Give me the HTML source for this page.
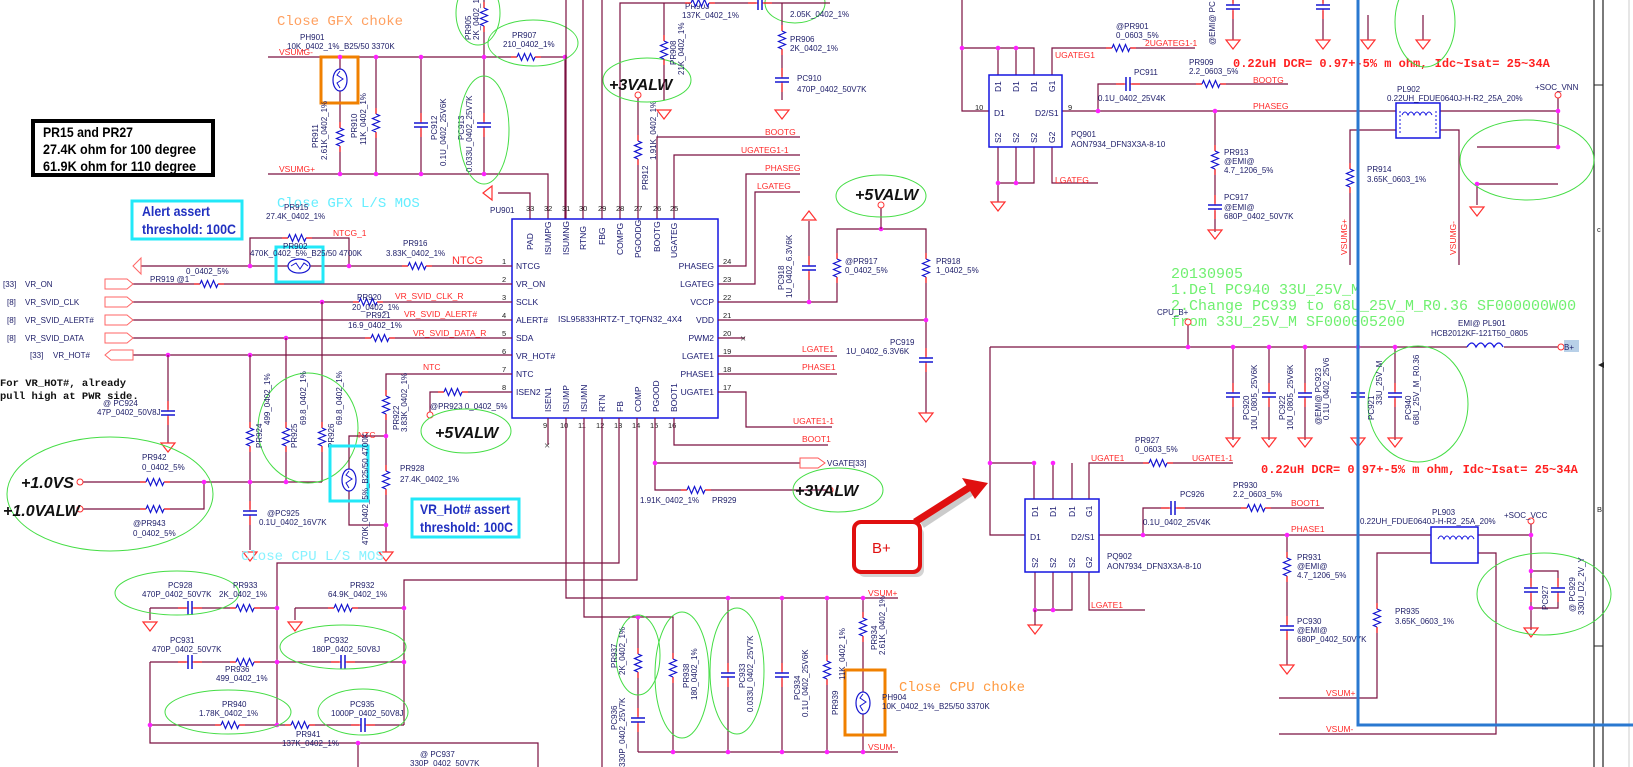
<!DOCTYPE html>
<html><head><meta charset="utf-8"><style>
html,body{margin:0;padding:0;background:#fff;}
svg{display:block}
.l{font:8px "Liberation Sans Narrow","Liberation Sans",sans-serif;fill:#20206a}
.p{font:7.5px "Liberation Sans Narrow","Liberation Sans",sans-serif;fill:#222}
.r{font:8.5px "Liberation Sans Narrow","Liberation Sans",sans-serif;fill:#ff2a2a}
.pl{font:8.5px "Liberation Sans Narrow","Liberation Sans",sans-serif;fill:#1a1a70}
.w{stroke:#7b1040;stroke-width:1.2;fill:none}
.big{font:italic bold 16px "Liberation Sans Narrow","Liberation Sans",sans-serif;fill:#111}
.m{font:14px "Liberation Mono",monospace}
.g{font:15px "Liberation Mono",monospace;fill:#70f070}
.note{font:bold 12px "Liberation Mono",monospace;fill:#ff2020}
.el{fill:none;stroke:#44dd44;stroke-width:1}
.bx{font:bold 14px "Liberation Sans Narrow","Liberation Sans",sans-serif}
</style></head><body>
<svg width="1633" height="767" viewBox="0 0 1633 767" xmlns="http://www.w3.org/2000/svg">
<defs>
<g id="rh"><rect x="-9" y="-1.5" width="18" height="3" fill="#fff"/><line x1="-15" y1="0" x2="-9" y2="0" stroke="#f22" stroke-width="1.2"/><line x1="9" y1="0" x2="15" y2="0" stroke="#f22" stroke-width="1.2"/><path d="M-9,0 l1.5,-3.5 l3,7 l3,-7 l3,7 l3,-7 l3,7 l1.5,-3.5" stroke="#1515d0" stroke-width="1.2" fill="none"/></g>
<g id="rv"><use href="#rh" transform="rotate(90)"/></g>
<g id="ch"><rect x="-4" y="-1.5" width="8" height="3" fill="#fff"/><line x1="-12" y1="0" x2="-2" y2="0" stroke="#f22" stroke-width="1.2"/><line x1="2" y1="0" x2="12" y2="0" stroke="#f22" stroke-width="1.2"/><line x1="-2" y1="-7" x2="-2" y2="7" stroke="#1515d0" stroke-width="1.5"/><line x1="2" y1="-7" x2="2" y2="7" stroke="#1515d0" stroke-width="1.5"/></g>
<g id="cv"><use href="#ch" transform="rotate(90)"/></g>
<g id="gd"><polygon points="-7,0 7,0 0,9" fill="none" stroke="#ff3030" stroke-width="1.2"/></g>
<g id="gu"><polygon points="-7,0 7,0 0,-9" fill="none" stroke="#ff3030" stroke-width="1.2"/></g>
<circle id="d" r="2.3" fill="#ff20ff"/>
<g id="th"><ellipse rx="7" ry="11" fill="#fff" stroke="#1515d0" stroke-width="1.2"/><path d="M0,-9 l-3,4 l6,4 l-6,4 l3,5" stroke="#1515d0" fill="none"/></g>
</defs>

<line x1="1594" y1="0" x2="1594" y2="767" stroke="#222" stroke-width="1.2"/>
<line x1="1603" y1="0" x2="1603" y2="767" stroke="#222" stroke-width="1.2"/>
<line x1="1594" y1="85" x2="1603" y2="85" stroke="#222"/>
<line x1="1594" y1="646" x2="1603" y2="646" stroke="#222"/>
<line x1="1629" y1="0" x2="1629" y2="767" stroke="#ccc" stroke-width="1"/>
<text x="1597" y="232" class="p">c</text><text x="1597" y="512" class="p">B</text>
<polygon points="1598,365 1604,362 1604,368" fill="#222"/>

<text x="277" y="25" class="m" fill="#ffa060">Close GFX choke</text>
<text x="300" y="40" class="l">PH901</text>
<text x="287" y="49" class="l">10K_0402_1%_B25/50 3370K</text>
<text x="279" y="55" class="r">VSUMG-</text>
<path class="w" d="M268,57 H565 V219"/>
<path class="w" d="M340,57 V174 M376,57 V174 M421,57 V174 M484,0 V174"/>
<text x="279" y="172" class="r">VSUMG+</text>
<path class="w" d="M268,174 H548 V219"/>
<use href="#th" x="340" y="80"/>
<rect x="321" y="57" width="37" height="46" fill="none" stroke="#f08000" stroke-width="3"/>
<use href="#rv" x="340" y="137"/><use href="#rv" x="376" y="123"/>
<use href="#cv" x="421" y="125"/><use href="#cv" x="484" y="125"/>
<use href="#rv" x="484" y="17"/><use href="#rh" x="526" y="57"/>
<g class="l"><text transform="translate(318,148) rotate(-90)">PR911</text><text transform="translate(327,160) rotate(-90)">2.61K_0402_1%</text>
<text transform="translate(357,138) rotate(-90)">PR910</text><text transform="translate(366,145) rotate(-90)">11K_0402_1%</text>
<text transform="translate(437,140) rotate(-90)">PC912</text><text transform="translate(446,166) rotate(-90)">0.1U_0402_25V6K</text>
<text transform="translate(464,140) rotate(-90)">PC913</text><text transform="translate(472,172) rotate(-90)">0.033U_0402_25V7K</text>
<text transform="translate(471,40) rotate(-90)">PR905</text><text transform="translate(479,40) rotate(-90)">2K_0402_1%</text>
<text x="512" y="38">PR907</text><text x="503" y="47">210_0402_1%</text></g>
<use href="#d" x="340" y="57"/><use href="#d" x="376" y="57"/><use href="#d" x="421" y="57"/><use href="#d" x="484" y="57"/><use href="#d" x="565" y="57"/>
<use href="#d" x="340" y="174"/><use href="#d" x="376" y="174"/><use href="#d" x="421" y="174"/><use href="#d" x="484" y="174"/>
<ellipse class="el" cx="484" cy="130" rx="25" ry="54"/>
<ellipse class="el" cx="533" cy="43" rx="45" ry="23"/>
<ellipse class="el" cx="478" cy="13" rx="22" ry="32"/>
<ellipse class="el" cx="795" cy="3" rx="30" ry="20"/>

<rect x="33" y="121" width="180" height="54" fill="#fff" stroke="#000" stroke-width="4"/>
<g class="bx" fill="#000"><text x="43" y="137" textLength="90" lengthAdjust="spacingAndGlyphs">PR15 and PR27</text><text x="43" y="154" textLength="153" lengthAdjust="spacingAndGlyphs">27.4K ohm for 100 degree</text><text x="43" y="171" textLength="153" lengthAdjust="spacingAndGlyphs">61.9K ohm for 110 degree</text></g>

<rect x="132" y="201" width="110" height="38" fill="#fff" stroke="#22e8f8" stroke-width="3"/>
<g class="bx" fill="#2030c0"><text x="142" y="216" textLength="68" lengthAdjust="spacingAndGlyphs">Alert  assert</text><text x="142" y="234" textLength="94" lengthAdjust="spacingAndGlyphs">threshold: 100C</text></g>
<text x="277" y="207" class="m" fill="#66eeff">Close GFX L/S MOS</text>

<path class="w" d="M530,219 V193 H498"/>
<use href="#gu" transform="translate(492,193) rotate(-90)"/>
<text x="490" y="213" class="l">PU901</text>
<path class="w" d="M566,219 V0 M583,219 V0 M602,219 V0 M620,219 V3 H830 M638,219 V97"/>
<circle cx="638" cy="95" r="3" fill="#fff" stroke="#f33"/>
<use href="#rv" x="638" y="150"/>
<text class="l" transform="translate(648,190) rotate(-90)">PR912</text><text class="l" transform="translate(656,160) rotate(-90)">1.91K_0402_1%</text>
<ellipse class="el" cx="647" cy="80" rx="44" ry="22"/>
<text x="609" y="90" class="big">+3VALW</text>
<path class="w" d="M664,3 V100 M782,3 V100"/>
<use href="#rv" x="664" y="50"/><use href="#rv" x="782" y="40"/><use href="#cv" x="782" y="80"/>
<use href="#gd" x="664" y="110"/><use href="#gd" x="782" y="110"/>
<g class="l"><text x="685" y="9">PR903</text><text x="682" y="18">137K_0402_1%</text><text x="790" y="17">2.05K_0402_1%</text>
<text x="790" y="42">PR906</text><text x="790" y="51">2K_0402_1%</text><text x="797" y="81">PC910</text><text x="797" y="92">470P_0402_50V7K</text>
<text transform="translate(676,65) rotate(-90)">PR908</text><text transform="translate(684,75) rotate(-90)">21K_0402_1%</text></g>
<use href="#rh" x="700" y="3"/><use href="#ch" x="760" y="3"/>
<path class="w" d="M657,219 V137 H800 M674,219 V155 H800"/>
<text x="765" y="135" class="r">BOOTG</text><text x="741" y="153" class="r">UGATEG1-1</text>
<path class="w" d="M718,266 H746 V174 H800 M718,284 H755 V192 H800"/>
<text x="765" y="171" class="r">PHASEG</text><text x="757" y="189" class="r">LGATEG</text>

<rect x="512" y="219" width="206" height="199" fill="#fff" stroke="#1515e0" stroke-width="1.5"/>
<g class="p"><text x="526" y="211">33</text><text x="544" y="211">32</text><text x="562" y="211">31</text><text x="579" y="211">30</text><text x="598" y="211">29</text><text x="616" y="211">28</text><text x="634" y="211">27</text><text x="653" y="211">26</text><text x="670" y="211">25</text></g>
<g class="pl">
<text transform="translate(533,250) rotate(-90)">PAD</text><text transform="translate(551,255) rotate(-90)">ISUMPG</text><text transform="translate(569,255) rotate(-90)">ISUMNG</text><text transform="translate(586,250) rotate(-90)">RTNG</text><text transform="translate(605,245) rotate(-90)">FBG</text><text transform="translate(623,255) rotate(-90)">COMPG</text><text transform="translate(641,258) rotate(-90)">PGOODG</text><text transform="translate(660,252) rotate(-90)">BOOTG</text><text transform="translate(677,258) rotate(-90)">UGATEG</text>
<text x="516" y="269">NTCG</text><text x="516" y="287">VR_ON</text><text x="516" y="305">SCLK</text><text x="516" y="323">ALERT#</text><text x="516" y="341">SDA</text><text x="516" y="359">VR_HOT#</text><text x="516" y="377">NTC</text><text x="516" y="395">ISEN2</text>
<text x="714" y="269" text-anchor="end">PHASEG</text><text x="714" y="287" text-anchor="end">LGATEG</text><text x="714" y="305" text-anchor="end">VCCP</text><text x="714" y="323" text-anchor="end">VDD</text><text x="714" y="341" text-anchor="end">PWM2</text><text x="714" y="359" text-anchor="end">LGATE1</text><text x="714" y="377" text-anchor="end">PHASE1</text><text x="714" y="395" text-anchor="end">UGATE1</text>
<text transform="translate(551,412) rotate(-90)">ISEN1</text><text transform="translate(569,412) rotate(-90)">ISUMP</text><text transform="translate(587,412) rotate(-90)">ISUMN</text><text transform="translate(605,412) rotate(-90)">RTN</text><text transform="translate(623,412) rotate(-90)">FB</text><text transform="translate(641,412) rotate(-90)">COMP</text><text transform="translate(659,412) rotate(-90)">PGOOD</text><text transform="translate(677,412) rotate(-90)">BOOT1</text>
<text x="558" y="322">ISL95833HRTZ-T_TQFN32_4X4</text></g>
<g class="p"><text x="502" y="264">1</text><text x="502" y="282">2</text><text x="502" y="300">3</text><text x="502" y="318">4</text><text x="502" y="336">5</text><text x="502" y="354">6</text><text x="502" y="372">7</text><text x="502" y="390">8</text>
<text x="723" y="264">24</text><text x="723" y="282">23</text><text x="723" y="300">22</text><text x="723" y="318">21</text><text x="723" y="336">20</text><text x="723" y="354">19</text><text x="723" y="372">18</text><text x="723" y="390">17</text>
<text x="543" y="428">9</text><text x="560" y="428">10</text><text x="578" y="428">11</text><text x="596" y="428">12</text><text x="614" y="428">13</text><text x="632" y="428">14</text><text x="650" y="428">15</text><text x="668" y="428">16</text></g>

<path class="w" d="M718,302 H837 V229 H926 V413 M718,320 H926 M718,338 H745 M718,356 H837 M718,374 H837 M718,392 H746 V427 H832 M674,418 V445 H828"/>
<text x="740" y="342" fill="#333" font-size="11">×</text>
<path class="w" d="M809,302 V221"/><use href="#gu" x="809" y="220"/><use href="#cv" x="809" y="268"/><use href="#d" x="809" y="302"/>
<use href="#rv" x="837" y="268"/><use href="#rv" x="926" y="268"/><use href="#cv" x="926" y="360"/><use href="#gd" x="926" y="413"/>
<use href="#d" x="881" y="229"/><use href="#d" x="926" y="320"/>
<path class="w" d="M881,207 V229"/><circle cx="881" cy="205" r="3" fill="#fff" stroke="#f33"/>
<ellipse class="el" cx="881" cy="196" rx="45" ry="21"/>
<text x="855" y="200" class="big">+5VALW</text>
<g class="l"><text x="845" y="264">@PR917</text><text x="845" y="273">0_0402_5%</text><text x="936" y="264">PR918</text><text x="936" y="273">1_0402_5%</text>
<text x="890" y="345">PC919</text><text x="846" y="354">1U_0402_6.3V6K</text>
<text transform="translate(784,290) rotate(-90)">PC918</text><text transform="translate(792,298) rotate(-90)">1U_0402_6.3V6K</text></g>
<text x="802" y="352" class="r">LGATE1</text><text x="802" y="370" class="r">PHASE1</text><text x="793" y="424" class="r">UGATE1-1</text><text x="802" y="442" class="r">BOOT1</text>

<path class="w" d="M548,418 V445"/><text x="544" y="449" fill="#333" font-size="11">×</text>
<path class="w" d="M566,418 V598 H898 M584,418 V617 H673 V752 M602,418 V767 M619,418 V563 H277 V725 M637,418 V580 H404 V725"/>
<path class="w" d="M655,418 V490 H830 M655,463 H800"/>
<use href="#d" x="655" y="463"/>
<polygon points="800,458 818,458 825,463 818,468 800,468" fill="none" stroke="#f55"/>
<text x="827" y="466" class="l">VGATE</text><text x="853" y="466" class="l">[33]</text>
<use href="#rh" x="696" y="490"/>
<circle cx="830" cy="490" r="3" fill="#fff" stroke="#f33"/>
<ellipse class="el" cx="838" cy="490" rx="45" ry="22"/>
<text x="795" y="496" class="big">+3VALW</text>
<text x="640" y="503" class="l">1.91K_0402_1%</text><text x="712" y="503" class="l">PR929</text>

<path class="w" d="M141,266 H512 M250,266 V238 H349 V266 M131,284 H512 M131,302 H512 M131,320 H512 M131,338 H512 M133,355 H512"/>
<polygon points="133,266 141,258 141,274" fill="#fff" stroke="#f66"/>
<use href="#rh" x="297" y="238"/><use href="#rh" x="417" y="266"/>
<use href="#th" transform="translate(299,266) rotate(90)"/>
<rect x="276" y="247" width="47" height="35" fill="none" stroke="#22e8f8" stroke-width="3"/>
<use href="#d" x="250" y="266"/><use href="#d" x="349" y="266"/>
<g class="l"><text x="284" y="210">PR915</text><text x="266" y="219">27.4K_0402_1%</text><text x="283" y="249">PR902</text><text x="250" y="256">470K_0402_5%_B25/50 4700K</text>
<text x="403" y="246">PR916</text><text x="386" y="256">3.83K_0402_1%</text></g>
<text x="333" y="236" class="r">NTCG_1</text><text x="452" y="264" class="r" style="font-size:11px">NTCG</text>
<g>
<polygon points="105,279 127,279 133,284 127,289 105,289" fill="#fff" stroke="#f66"/>
<polygon points="105,297 127,297 133,302 127,307 105,307" fill="#fff" stroke="#f66"/>
<polygon points="105,315 127,315 133,320 127,325 105,325" fill="#fff" stroke="#f66"/>
<polygon points="105,333 127,333 133,338 127,343 105,343" fill="#fff" stroke="#f66"/>
<polygon points="105,355 111,350 133,350 133,360 111,360" fill="#fff" stroke="#f66"/>
</g>
<g class="l"><text x="3" y="287">[33]</text><text x="25" y="287">VR_ON</text><text x="7" y="305">[8]</text><text x="25" y="305">VR_SVID_CLK</text><text x="7" y="323">[8]</text><text x="25" y="323">VR_SVID_ALERT#</text><text x="7" y="341">[8]</text><text x="25" y="341">VR_SVID_DATA</text><text x="30" y="358">[33]</text><text x="53" y="358">VR_HOT#</text></g>
<use href="#rh" x="209" y="284"/><use href="#rh" x="368" y="302"/><use href="#rh" x="380" y="338"/>
<g class="l"><text x="150" y="282">PR919 @1</text><text x="186" y="274">0_0402_5%</text><text x="357" y="300">PR920</text><text x="352" y="310">20_0402_1%</text><text x="366" y="318">PR921</text><text x="348" y="328">16.9_0402_1%</text></g>
<text x="395" y="299" class="r">VR_SVID_CLK_R</text><text x="404" y="317" class="r">VR_SVID_ALERT#</text><text x="413" y="336" class="r">VR_SVID_DATA_R</text>
<use href="#d" x="322" y="302"/><use href="#d" x="286" y="338"/><use href="#d" x="168" y="355"/><use href="#d" x="250" y="355"/>
<text x="0" y="386" font-family="Liberation Mono,monospace" font-weight="bold" font-size="10.5" fill="#111">For VR_HOT#, already</text>
<text x="0" y="399" font-family="Liberation Mono,monospace" font-weight="bold" font-size="10.5" fill="#111">pull high at PWR side.</text>

<path class="w" d="M168,355 V443 M250,355 V550 M286,338 V482 M322,302 V482 M80,482 H322 M80,509 H204 V482"/>
<use href="#cv" x="168" y="413"/><use href="#gd" x="168" y="443"/>
<use href="#rv" x="250" y="437"/><use href="#rv" x="286" y="437"/><use href="#rv" x="322" y="437"/>
<use href="#cv" x="250" y="513"/><use href="#gd" x="250" y="552"/>
<use href="#rh" x="155" y="482"/><use href="#rh" x="155" y="509"/>
<use href="#d" x="204" y="482"/><use href="#d" x="250" y="482"/><use href="#d" x="286" y="482"/>
<circle cx="80" cy="482" r="3" fill="#fff" stroke="#f33"/><circle cx="80" cy="509" r="3" fill="#fff" stroke="#f33"/>
<ellipse class="el" cx="110" cy="494" rx="103" ry="57"/>
<ellipse class="el" cx="308" cy="428" rx="50" ry="55"/>
<text x="21" y="488" class="big">+1.0VS</text><text x="3" y="516" class="big">+1.0VALW</text>
<g class="l"><text x="103" y="406">@   PC924</text><text x="97" y="415">47P_0402_50V8J</text>
<text x="142" y="460">PR942</text><text x="142" y="470">0_0402_5%</text><text x="133" y="526">@PR943</text><text x="133" y="536">0_0402_5%</text>
<text x="267" y="516">@PC925</text><text x="259" y="525">0.1U_0402_16V7K</text>
<text transform="translate(262,448) rotate(-90)">PR924</text><text transform="translate(270,425) rotate(-90)">499_0402_1%</text>
<text transform="translate(297,448) rotate(-90)">PR925</text><text transform="translate(306,425) rotate(-90)">69.8_0402_1%</text>
<text transform="translate(334,448) rotate(-90)">PR926</text><text transform="translate(342,425) rotate(-90)">69.8_0402_1%</text></g>

<path class="w" d="M512,374 H386 V552 M386,436 H349 V525 H386 M512,392 H430 V413"/>
<use href="#rv" x="386" y="405"/><use href="#rv" x="386" y="480"/><use href="#th" x="349" y="480"/>
<use href="#d" x="386" y="436"/><use href="#d" x="386" y="525"/><use href="#gd" x="386" y="552"/>
<rect x="330" y="446" width="38" height="55" fill="none" stroke="#22e8f8" stroke-width="3"/>
<text x="423" y="370" class="r">NTC</text><text x="358" y="438" class="r">NTC</text>
<use href="#rh" x="453" y="392"/><circle cx="430" cy="415" r="3" fill="#fff" stroke="#f33"/>
<g class="l"><text x="430" y="409">@PR923 0_0402_5%</text><text x="400" y="471">PR928</text><text x="400" y="482">27.4K_0402_1%</text>
<text transform="translate(399,430) rotate(-90)">PR922</text><text transform="translate(407,432) rotate(-90)">3.83K_0402_1%</text>
<text transform="translate(368,545) rotate(-90)">470K_0402_5%_B25/50 4700K</text></g>
<ellipse class="el" cx="466" cy="431" rx="45" ry="22"/>
<text x="435" y="438" class="big">+5VALW</text>
<rect x="412" y="499" width="107" height="38" fill="#fff" stroke="#22e8f8" stroke-width="3"/>
<g class="bx" fill="#2030c0"><text x="420" y="514" textLength="90" lengthAdjust="spacingAndGlyphs">VR_Hot# assert</text><text x="420" y="532" textLength="93" lengthAdjust="spacingAndGlyphs">threshold: 100C</text></g>
<text x="241" y="560" class="m" fill="#88f2ff">Close CPU L/S MOS</text>

<path class="w" d="M150,608 H277 M150,608 V620 M295,608 H404 M295,608 V620 M150,662 H404 M150,662 V743 H538 V767 M150,725 H404 M358,743 V767"/>
<use href="#gd" x="150" y="622"/><use href="#gd" x="295" y="622"/>
<use href="#ch" x="190" y="608"/><use href="#rh" x="245" y="608"/><use href="#rh" x="343" y="608"/>
<use href="#ch" x="190" y="662"/><use href="#rh" x="245" y="662"/><use href="#ch" x="343" y="662"/>
<use href="#rh" x="230" y="725"/><use href="#rh" x="300" y="725"/><use href="#ch" x="363" y="725"/>
<use href="#d" x="277" y="608"/><use href="#d" x="404" y="608"/><use href="#d" x="277" y="662"/><use href="#d" x="404" y="662"/><use href="#d" x="150" y="725"/><use href="#d" x="277" y="725"/><use href="#d" x="358" y="743"/>
<ellipse class="el" cx="177" cy="593" rx="62" ry="22"/><ellipse class="el" cx="343" cy="647" rx="63" ry="22"/>
<ellipse class="el" cx="228" cy="712" rx="63" ry="22"/><ellipse class="el" cx="363" cy="712" rx="45" ry="23"/>
<g class="l"><text x="168" y="588">PC928</text><text x="142" y="597">470P_0402_50V7K</text><text x="233" y="588">PR933</text><text x="219" y="597">2K_0402_1%</text>
<text x="350" y="588">PR932</text><text x="328" y="597">64.9K_0402_1%</text>
<text x="170" y="643">PC931</text><text x="152" y="652">470P_0402_50V7K</text><text x="225" y="672">PR936</text><text x="216" y="681">499_0402_1%</text>
<text x="324" y="643">PC932</text><text x="312" y="652">180P_0402_50V8J</text>
<text x="222" y="707">PR940</text><text x="199" y="716">1.78K_0402_1%</text><text x="296" y="737">PR941</text><text x="282" y="746">137K_0402_1%</text>
<text x="350" y="707">PC935</text><text x="331" y="716">1000P_0402_50V8J</text>
<text x="420" y="757">@ PC937</text><text x="410" y="766">330P_0402_50V7K</text></g>

<path class="w" d="M638,617 V752 M728,598 V752 M782,598 V752 M827,598 V752 M863,598 V752 M638,752 H898"/>
<use href="#rv" x="638" y="663"/><use href="#cv" x="638" y="720"/><use href="#rv" x="673" y="668"/>
<use href="#cv" x="728" y="675"/><use href="#cv" x="782" y="675"/><use href="#rv" x="827" y="670"/>
<use href="#rv" x="863" y="627"/><use href="#th" x="863" y="703"/>
<rect x="845" y="670" width="40" height="65" fill="none" stroke="#f08000" stroke-width="3"/>
<use href="#d" x="638" y="617"/>
<use href="#d" x="728" y="598"/><use href="#d" x="782" y="598"/><use href="#d" x="827" y="598"/><use href="#d" x="863" y="598"/>
<use href="#d" x="673" y="752"/><use href="#d" x="728" y="752"/><use href="#d" x="782" y="752"/><use href="#d" x="827" y="752"/><use href="#d" x="863" y="752"/>
<ellipse class="el" cx="638" cy="655" rx="22" ry="40"/><ellipse class="el" cx="682" cy="675" rx="27" ry="63"/><ellipse class="el" cx="737" cy="671" rx="27" ry="63"/>
<g class="l"><text transform="translate(617,668) rotate(-90)">PR937</text><text transform="translate(625,675) rotate(-90)">2K_0402_1%</text>
<text transform="translate(689,688) rotate(-90)">PR938</text><text transform="translate(697,700) rotate(-90)">180_0402_1%</text>
<text transform="translate(745,688) rotate(-90)">PC933</text><text transform="translate(753,712) rotate(-90)">0.033U_0402_25V7K</text>
<text transform="translate(800,700) rotate(-90)">PC934</text><text transform="translate(808,717) rotate(-90)">0.1U_0402_25V6K</text>
<text transform="translate(838,715) rotate(-90)">PR939</text><text transform="translate(845,680) rotate(-90)">11K_0402_1%</text>
<text transform="translate(877,650) rotate(-90)">PR934</text><text transform="translate(885,655) rotate(-90)">2.61K_0402_1%</text>
<text transform="translate(617,730) rotate(-90)">PC936</text><text transform="translate(625,767) rotate(-90)">330P_0402_25V7K</text>
<text x="882" y="700">PH904</text><text x="882" y="709">10K_0402_1%_B25/50 3370K</text></g>
<text x="868" y="596" class="r">VSUM+</text><text x="868" y="750" class="r">VSUM-</text>
<text x="899" y="691" class="m" fill="#ff9a40">Close CPU choke</text>

<line x1="922" y1="525" x2="975" y2="490" stroke="#999" stroke-width="7" opacity="0.5"/>
<line x1="915" y1="522" x2="970" y2="487" stroke="#e01010" stroke-width="7"/>
<polygon points="988,483 962,478 975,499" fill="#e01010"/>
<rect x="858" y="527" width="66" height="50" rx="7" fill="#aaa" opacity="0.5"/>
<rect x="854" y="522" width="66" height="50" rx="7" fill="#fff" stroke="#e01010" stroke-width="4"/>
<text x="872" y="553" font-family="Liberation Sans,sans-serif" font-size="15" fill="#e01010">B+</text>

<path class="w" d="M962,0 V111 H989 M962,48 H1034 V75 M998,48 V75 M1016,48 V75 M1052,75 V48 H1195 M1062,111 H1396 M1098,111 V84 H1288 M998,147 V202 M1016,147 V183 M1034,147 V183 H998 M1052,147 V183 H1098 M1215,111 V232"/>
<rect x="989" y="75" width="73" height="72" fill="#fff" stroke="#1515e0" stroke-width="1.5"/>
<g class="pl"><text transform="translate(1001,92) rotate(-90)">D1</text><text transform="translate(1019,92) rotate(-90)">D1</text><text transform="translate(1037,92) rotate(-90)">D1</text><text transform="translate(1055,92) rotate(-90)">G1</text>
<text x="994" y="116">D1</text><text x="1035" y="116">D2/S1</text>
<text transform="translate(1001,143) rotate(-90)">S2</text><text transform="translate(1019,143) rotate(-90)">S2</text><text transform="translate(1037,143) rotate(-90)">S2</text><text transform="translate(1055,143) rotate(-90)">G2</text></g>
<g class="p"><text x="975" y="110">10</text><text x="1068" y="110">9</text></g>
<use href="#d" x="962" y="48"/><use href="#d" x="998" y="48"/><use href="#d" x="1016" y="48"/><use href="#d" x="998" y="183"/><use href="#d" x="1016" y="183"/><use href="#d" x="1098" y="111"/><use href="#d" x="1215" y="111"/>
<use href="#gd" x="998" y="202"/>
<use href="#rh" x="1121" y="48"/><use href="#ch" x="1128" y="84"/><use href="#rh" x="1211" y="84"/>
<use href="#rv" x="1215" y="160"/><use href="#cv" x="1215" y="207"/><use href="#gd" x="1215" y="230"/>
<text x="1055" y="58" class="r">UGATEG1</text><text x="1145" y="46" class="r">2UGATEG1-1</text><text x="1253" y="83" class="r">BOOTG</text><text x="1253" y="109" class="r">PHASEG</text><text x="1055" y="183" class="r">LGATEG</text>
<g class="l"><text x="1116" y="29">@PR901</text><text x="1116" y="38">0_0603_5%</text><text x="1134" y="75">PC911</text><text x="1098" y="101">0.1U_0402_25V4K</text>
<text x="1189" y="65">PR909</text><text x="1189" y="74">2.2_0603_5%</text><text x="1071" y="137">PQ901</text><text x="1071" y="147">AON7934_DFN3X3A-8-10</text>
<text x="1224" y="155">PR913</text><text x="1224" y="164">@EMI@</text><text x="1224" y="173">4.7_1206_5%</text>
<text x="1224" y="200">PC917</text><text x="1224" y="210">@EMI@</text><text x="1224" y="219">680P_0402_50V7K</text></g>
<text x="1233" y="67" class="note">0.22uH DCR= 0.97+-5% m ohm, Idc~Isat= 25~34A</text>
<path class="w" d="M1233,0 V40 M1323,0 V40 M1368,15 V40 M1423,15 V40"/>
<use href="#cv" x="1233" y="7"/><use href="#cv" x="1323" y="7"/>
<use href="#gd" x="1233" y="40"/><use href="#gd" x="1323" y="40"/><use href="#gd" x="1368" y="40"/><use href="#gd" x="1423" y="40"/>
<text class="l" transform="translate(1215,45) rotate(-90)">@EMI@ PC</text>
<ellipse class="el" cx="1425" cy="22" rx="30" ry="45"/>

<path class="w" d="M1440,111 H1558 M1396,130 H1350 V265 M1440,130 H1459 V265 M1558,97 V147 M1477,147 H1558 M1477,184 H1558 M1477,184 V205"/>
<rect x="1396" y="103" width="44" height="35" fill="#fff" stroke="#1515e0" stroke-width="1.5"/>
<path d="M1402,115 q3,-6 6,0 q3,-6 6,0 q3,-6 6,0 q3,-6 6,0 q3,-6 6,0" fill="none" stroke="#1515e0"/>
<line x1="1400" y1="111" x2="1400" y2="134" stroke="#1515e0" stroke-dasharray="2,2"/><line x1="1436" y1="111" x2="1436" y2="134" stroke="#1515e0" stroke-dasharray="2,2"/>
<use href="#rv" x="1350" y="178"/>
<circle cx="1558" cy="95" r="3" fill="#fff" stroke="#f33"/>
<use href="#d" x="1558" y="111"/><use href="#d" x="1558" y="147"/><use href="#d" x="1477" y="184"/><use href="#gd" x="1477" y="207"/>
<ellipse class="el" cx="1527" cy="160" rx="67" ry="40"/>
<g class="l"><text x="1397" y="92">PL902</text><text x="1387" y="101">0.22UH_FDUE0640J-H-R2_25A_20%</text><text x="1535" y="90">+SOC_VNN</text>
<text x="1367" y="172">PR914</text><text x="1367" y="182">3.65K_0603_1%</text></g>
<text class="r" transform="translate(1347,255) rotate(-90)">VSUMG+</text><text class="r" transform="translate(1456,255) rotate(-90)">VSUMG-</text>

<g class="g"><text x="1171" y="278">20130905</text><text x="1171" y="294">1.Del PC940 33U_25V_M</text><text x="1171" y="310">2.Change PC939 to 68U_25V_M_R0.36 SF000000W00</text><text x="1171" y="326">from 33U_25V_M SF000005200</text></g>

<path class="w" d="M990,347 H1467 M1504,347 H1558 M1188,325 V347 M990,347 V535 H1025 M990,463 H1034 V499 M1053,463 V499 M1072,463 V499"/>
<path d="M1467,347 q5,-8 9,0 q5,-8 9,0 q5,-8 9,0 q5,-8 9,0" fill="none" stroke="#1515e0" stroke-width="1.3"/>
<circle cx="1188" cy="322" r="3" fill="#fff" stroke="#f33"/><circle cx="1561" cy="347" r="3" fill="#fff" stroke="#f33"/>
<rect x="1564" y="340" width="15" height="12" fill="#b8d0e8"/><text x="1564" y="350" class="l">B+</text>
<text x="1157" y="315" class="l">CPU_B+</text>
<g class="l"><text x="1458" y="326">EMI@  PL901</text><text x="1431" y="336">HCB2012KF-121T50_0805</text></g>
<path class="w" d="M1233,347 V440 M1269,347 V440 M1305,347 V440 M1358,347 V440 M1395,347 V440"/>
<use href="#cv" x="1233" y="395"/><use href="#cv" x="1269" y="395"/><use href="#cv" x="1305" y="395"/><use href="#cv" x="1358" y="395"/><use href="#cv" x="1395" y="395"/>
<use href="#gd" x="1233" y="438"/><use href="#gd" x="1269" y="438"/><use href="#gd" x="1305" y="438"/><use href="#gd" x="1358" y="438"/><use href="#gd" x="1395" y="438"/>
<use href="#d" x="1188" y="347"/><use href="#d" x="1233" y="347"/><use href="#d" x="1269" y="347"/><use href="#d" x="1305" y="347"/><use href="#d" x="1358" y="347"/><use href="#d" x="1395" y="347"/>
<ellipse class="el" cx="1418" cy="404" rx="50" ry="58"/>
<g class="l"><text transform="translate(1249,420) rotate(-90)">PC920</text><text transform="translate(1257,430) rotate(-90)">10U_0805_25V6K</text>
<text transform="translate(1285,420) rotate(-90)">PC922</text><text transform="translate(1293,430) rotate(-90)">10U_0805_25V6K</text>
<text transform="translate(1321,425) rotate(-90)">@EMI@ PC923</text><text transform="translate(1329,420) rotate(-90)">0.1U_0402_25V6</text>
<text transform="translate(1374,420) rotate(-90)">PC921</text><text transform="translate(1382,405) rotate(-90)">33U_25V_M</text>
<text transform="translate(1411,420) rotate(-90)">PC940</text><text transform="translate(1419,425) rotate(-90)">68U_25V_M_R0.36</text></g>

<path class="w" d="M1089,499 V463 H1233 M1099,535 H1431 M1143,535 V508 H1324 M1035,572 V610 M1053,572 V610 M1072,572 V610 H1035 M1089,572 V610 H1145 M1287,535 V665"/>
<rect x="1025" y="499" width="74" height="73" fill="#fff" stroke="#1515e0" stroke-width="1.5"/>
<g class="pl"><text transform="translate(1038,517) rotate(-90)">D1</text><text transform="translate(1056,517) rotate(-90)">D1</text><text transform="translate(1075,517) rotate(-90)">D1</text><text transform="translate(1092,517) rotate(-90)">G1</text>
<text x="1030" y="540">D1</text><text x="1071" y="540">D2/S1</text>
<text transform="translate(1038,568) rotate(-90)">S2</text><text transform="translate(1056,568) rotate(-90)">S2</text><text transform="translate(1075,568) rotate(-90)">S2</text><text transform="translate(1092,568) rotate(-90)">G2</text></g>
<use href="#d" x="990" y="463"/><use href="#d" x="1034" y="463"/><use href="#d" x="1053" y="463"/><use href="#d" x="1035" y="610"/><use href="#d" x="1053" y="610"/><use href="#d" x="1143" y="535"/><use href="#d" x="1287" y="535"/>
<use href="#gd" x="1035" y="625"/><path class="w" d="M1035,610 V625"/>
<use href="#rh" x="1158" y="463"/><use href="#ch" x="1173" y="508"/><use href="#rh" x="1256" y="508"/>
<use href="#rv" x="1287" y="567"/><use href="#cv" x="1287" y="628"/><use href="#gd" x="1287" y="665"/>
<text x="1091" y="461" class="r">UGATE1</text><text x="1192" y="461" class="r">UGATE1-1</text><text x="1291" y="506" class="r">BOOT1</text><text x="1291" y="532" class="r">PHASE1</text><text x="1091" y="608" class="r">LGATE1</text>
<g class="l"><text x="1135" y="443">PR927</text><text x="1135" y="452">0_0603_5%</text><text x="1180" y="497">PC926</text><text x="1143" y="525">0.1U_0402_25V4K</text>
<text x="1233" y="488">PR930</text><text x="1233" y="497">2.2_0603_5%</text><text x="1107" y="559">PQ902</text><text x="1107" y="569">AON7934_DFN3X3A-8-10</text>
<text x="1297" y="560">PR931</text><text x="1297" y="569">@EMI@</text><text x="1297" y="578">4.7_1206_5%</text>
<text x="1297" y="624">PC930</text><text x="1297" y="633">@EMI@</text><text x="1297" y="642">680P_0402_50V7K</text></g>
<text x="1261" y="473" class="note">0.22uH DCR= 0.97+-5% m ohm, Idc~Isat= 25~34A</text>

<path class="w" d="M1478,535 H1531 M1431,553 H1377 V698 H1279 M1478,553 H1496 V734 H1279 M1531,524 V630 M1531,571 H1558 V608 H1531"/>
<rect x="1431" y="527" width="47" height="36" fill="#fff" stroke="#1515e0" stroke-width="1.5"/>
<path d="M1438,539 q3,-6 6,0 q3,-6 6,0 q3,-6 6,0 q3,-6 6,0 q3,-6 6,0 q3,-6 6,0" fill="none" stroke="#1515e0"/>
<use href="#rv" x="1377" y="618"/>
<circle cx="1531" cy="521" r="3" fill="#fff" stroke="#f33"/>
<use href="#d" x="1531" y="535"/><use href="#d" x="1531" y="571"/><use href="#d" x="1531" y="608"/>
<use href="#cv" x="1531" y="590"/><use href="#cv" x="1558" y="590"/><use href="#gd" x="1531" y="628"/>
<ellipse class="el" cx="1544" cy="594" rx="67" ry="41"/>
<g class="l"><text x="1432" y="515">PL903</text><text x="1360" y="524">0.22UH_FDUE0640J-H-R2_25A_20%</text><text x="1504" y="518">+SOC_VCC</text>
<text x="1395" y="614">PR935</text><text x="1395" y="624">3.65K_0603_1%</text>
<text transform="translate(1548,610) rotate(-90)">PC927</text><text transform="translate(1575,612) rotate(-90)">@ PC929</text><text transform="translate(1584,615) rotate(-90)">330U_D2_2V_Y</text></g>
<text x="1326" y="696" class="r">VSUM+</text><text x="1326" y="732" class="r">VSUM-</text>

<path d="M1358,0 V725 H1633" fill="none" stroke="#2a78d0" stroke-width="3"/>
</svg>
</body></html>
